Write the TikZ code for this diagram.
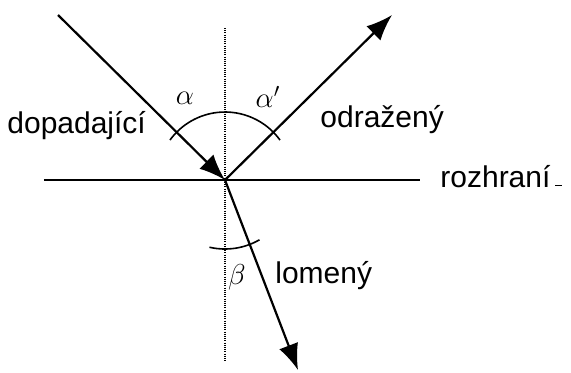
\documentclass[tikz,border=0pt]{standalone}
\usepackage{fontspec}
\setmainfont{Liberation Sans}
\usepackage{tikz}
\usetikzlibrary{arrows.meta}

\begin{document}
\begin{tikzpicture}[x=0.5pt, y=0.5pt, every node/.style={inner sep=0pt, font=\fontsize{15}{18}\selectfont},
    ray/.style={line width=1.1pt, -{Latex[length=13pt, width=10pt]}}]
  \useasboundingbox (-225,-192) rectangle (346,180);
  \coordinate (O) at (0,0);
  \coordinate (src) at (-167,165);
  \coordinate (refl) at (167,165);
  \coordinate (refr) at (73,-190);
  \coordinate (bL) at (-181,0);
  \coordinate (bR) at (195,0);
  \coordinate (nU) at (0,152);
  \coordinate (nD) at (0,-182);
  \draw[line width=0.7pt, dash pattern=on 0.5pt off 0.6pt] (nU) -- (nD);
  \draw[line width=1.3pt] (bL) -- (bR);
  \draw[ray] (src) -- (O);
  \draw[ray] (O) -- (refl);
  \draw[ray] (O) -- (refr);
  \draw[line width=0.8pt] (O) ++(36:68) arc[start angle=36, end angle=144, radius=68];
  \draw[line width=0.8pt] (O) ++(257:69) arc[start angle=257, end angle=300, radius=69];
  \node[anchor=base west] (dop) at (-218,47) {dopadající};
  \node[anchor=base west] (odr) at (95,53) {odražený};
  \node[anchor=base west] (roz) at (215,-7) {rozhraní};
  \node[anchor=base west] (lom) at (50,-103) {lomený};
  \node (al) at (-40,82) {\Large$\alpha$};
  \node (alp) at (43,83) {\Large$\alpha'$};
  \node (be) at (12,-97) {\Large$\beta$};
  \draw[line width=0.5pt] (330,-5) -- (337,-5);
\end{tikzpicture}
\end{document}
